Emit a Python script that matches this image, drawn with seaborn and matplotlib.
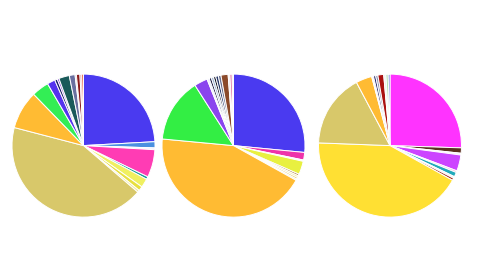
import matplotlib
matplotlib.use("Agg")
import matplotlib.pyplot as plt
import seaborn as sns

sns.set_theme(style="white")

# Pie 1 (clockwise from 12 o'clock)
pie1_values = [24.2, 1.4, 0.4, 6.3, 0.6, 2.0, 1.0, 0.5, 42.9, 8.7, 3.9,
               1.8, 0.6, 0.4, 2.4, 1.3, 0.3, 0.8, 0.4, 0.4]
pie1_colors = ["#4a3af0", "#4a90e0", "#eef0ff", "#ff3cb4", "#1a9a9a", "#f0f060",
               "#e8e040", "#f0e8a0", "#d8c86a", "#ffbb33", "#33ee55",
               "#5533ee", "#1a1a6a", "#7a33cc", "#1a5a5a", "#6a70a0", "#c0c0d0",
               "#8b1a1a", "#e09090", "#e05030"]

# Pie 2
pie2_values = [26.4, 1.7, 0.3, 3.0, 0.4, 0.4, 0.4, 0.3, 43.2, 14.4, 3.0,
               0.5, 0.5, 0.5, 0.5, 0.6, 0.6, 1.6, 0.4, 0.5, 0.3]
pie2_colors = ["#4a3af0", "#ee33aa", "#f8f8f0", "#e8f040", "#b08040", "#f0e8a0",
               "#e8d070", "#f0e0b0", "#ffbb33", "#33ee44", "#8a44ee",
               "#f0f0ff", "#1a1a40", "#9ab0d0", "#101020", "#2a3a6a", "#6a7090",
               "#8b4a2a", "#f0e0e0", "#e070a0", "#e8e0f0"]

# Pie 3
pie3_values = [25.3, 1.2, 0.4, 3.6, 0.4, 1.0, 0.4, 0.5, 42.2, 16.5, 3.6,
               0.4, 0.5, 0.5, 1.3, 0.5, 0.5, 0.4]
pie3_colors = ["#ff33ff", "#5a3020", "#f8f0f8", "#cc44ff", "#f0c0e0", "#22aabb",
               "#f0f0f0", "#a03020", "#ffe033", "#d8c86a", "#ffbb33",
               "#f8f8f8", "#2a2a6a", "#8a90b0", "#aa1111", "#f0f0f0", "#b0e0b0",
               "#6a70e0"]

pies = [(pie1_values, pie1_colors), (pie2_values, pie2_colors), (pie3_values, pie3_colors)]
centers_x = [83.5, 233.5, 390.0]
center_y = 145.6
radius_px = 71.5
W, H = 480, 268

fig = plt.figure(figsize=(4.8, 2.68), dpi=100)
fig.patch.set_facecolor("white")
pad = 1.03
for (vals, cols), cx in zip(pies, centers_x):
    half = radius_px * pad
    ax = fig.add_axes([(cx - half) / W, (H - center_y - half) / H, 2 * half / W, 2 * half / H])
    ax.pie(vals, colors=sns.color_palette(cols), startangle=90, counterclock=False,
           wedgeprops=dict(edgecolor="white", linewidth=0.7))
    ax.set_xlim(-pad, pad)
    ax.set_ylim(-pad, pad)
    ax.set_aspect("equal")
    ax.axis("off")

fig.savefig("out.png", dpi=100, facecolor="white")
